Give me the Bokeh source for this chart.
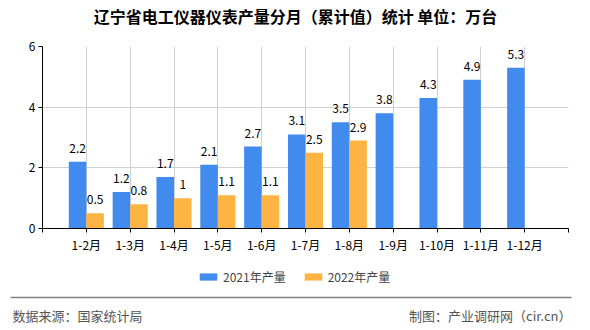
import numpy as np
from bokeh.plotting import figure
from bokeh.layouts import column, row
from bokeh.models import (ColumnDataSource, Range1d, FixedTicker, Legend, LegendItem)
from bokeh.core.properties import value
from bokeh.transform import dodge
from bokeh.embed import file_html
from bokeh.resources import INLINE

title_text = "辽宁省电工仪器仪表产量分月（累计值）统计 单位：万台"
months = ["1-2月", "1-3月", "1-4月", "1-5月", "1-6月", "1-7月", "1-8月",
          "1-9月", "1-10月", "1-11月", "1-12月"]
y2021 = [2.2, 1.2, 1.7, 2.1, 2.7, 3.1, 3.5, 3.8, 4.3, 4.9, 5.3]
y2022 = [0.5, 0.8, 1.0, 1.1, 1.1, 2.5, 2.9]
series_names = ["2021年产量", "2022年产量"]
y_ticks = [0, 2, 4, 6]
source_text = "数据来源：国家统计局"
credit_text = "制图：产业调研网（cir.cn）"

BLUE = "#418BEF"
ORANGE = "#FDB443"
FONT = "Noto Sans CJK SC"


def blank_panel(h):
    fig = figure(width=590, height=h, output_backend="svg", toolbar_location=None,
                 x_range=Range1d(0, 590), y_range=Range1d(h, 0),
                 min_border=0, x_axis_type=None, y_axis_type=None)
    fig.outline_line_color = None
    fig.xgrid.visible = False
    fig.ygrid.visible = False
    return fig


x21 = np.arange(1, len(y2021) + 1)
x22 = np.arange(1, len(y2022) + 1)
src21 = ColumnDataSource(dict(x=x21, y=y2021, lab=[f"{v:g}" for v in y2021]))
src22 = ColumnDataSource(dict(x=x22, y=y2022, lab=[f"{v:g}" for v in y2022]))

# header with title
h = blank_panel(30)
h.text(x=[295], y=[15.5], text=[title_text], text_align="center", text_baseline="middle",
       text_font=value(FONT), text_font_size="16px", text_font_style="bold",
       text_color="#000000")

# main chart
p = figure(width=590, height=225, output_backend="svg", toolbar_location=None,
           x_range=Range1d(0, len(months) + 1), y_range=Range1d(0, 6),
           min_border_left=42, min_border_right=22, min_border_top=16,
           min_border_bottom=26)
p.outline_line_color = None
p.background_fill_color = "white"
p.border_fill_color = "white"

r21 = p.vbar(x=dodge("x", -0.2, range=p.x_range), top="y", width=0.4,
             source=src21, fill_color=BLUE, line_color=None)
r22 = p.vbar(x=dodge("x", 0.2, range=p.x_range), top="y", width=0.4,
             source=src22, fill_color=ORANGE, line_color=None)

for s, off in ((src21, -0.2), (src22, 0.2)):
    p.text(x=dodge("x", off, range=p.x_range), y="y", text="lab", source=s,
           text_align="center", text_baseline="bottom", y_offset=-9,
           text_font=value(FONT), text_font_size="12px", text_color="#000000")

xa = p.xaxis[0]
xa.ticker = FixedTicker(ticks=list(range(0, len(months) + 2)))
overrides = {0: "", len(months) + 1: ""}
for i, m in zip(x21, months):
    overrides[int(i)] = m
xa.major_label_overrides = overrides
xa.axis_line_color = "#000000"
xa.major_tick_line_color = "#000000"
xa.major_tick_out = 4
xa.major_tick_in = 0
xa.minor_tick_line_color = None
xa.major_label_standoff = 3
xa.major_label_text_font = FONT
xa.major_label_text_font_size = "12px"
xa.major_label_text_color = "#000000"

ya = p.yaxis[0]
ya.ticker = FixedTicker(ticks=y_ticks)
ya.axis_line_color = "#000000"
ya.major_tick_line_color = "#000000"
ya.major_tick_out = 4
ya.major_tick_in = 0
ya.minor_tick_line_color = None
ya.major_label_standoff = 3
ya.major_label_text_font = FONT
ya.major_label_text_font_size = "12px"
ya.major_label_text_color = "#000000"

p.xgrid.grid_line_color = "#D0D0D0"
p.ygrid.grid_line_color = "#D0D0D0"
p.xgrid.ticker = xa.ticker
p.ygrid.ticker = ya.ticker

# footer: legend, rule, source notes
f = blank_panel(75)
# legend proxies: same series, mapped to off-screen ranges so only the key shows
f.extra_x_ranges = {"off": Range1d(10000, 20000)}
f.extra_y_ranges = {"offy": Range1d(10000, 20000)}
l21 = f.vbar(x="x", top="y", width=0.4, source=src21, fill_color=BLUE,
             line_color=None, x_range_name="off", y_range_name="offy")
l22 = f.vbar(x="x", top="y", width=0.4, source=src22, fill_color=ORANGE,
             line_color=None, x_range_name="off", y_range_name="offy")
legend = Legend(items=[LegendItem(label=series_names[0], renderers=[l21]),
                       LegendItem(label=series_names[1], renderers=[l22])],
                orientation="horizontal", location=(197, 45),
                glyph_width=22, glyph_height=9, label_standoff=4, spacing=16,
                padding=0, margin=0, border_line_color=None,
                background_fill_alpha=0, label_text_font=FONT,
                label_text_font_size="12px", label_height=10)
f.add_layout(legend, "center")
f.segment(x0=[10], y0=[42], x1=[571], y1=[42], line_color="#808080", line_width=1.5)
f.text(x=[12], y=[60], text=[source_text], text_align="left", text_baseline="middle",
       text_font=value(FONT), text_font_size="13px", text_color="#555555")
f.text(x=[571], y=[60], text=[credit_text], text_align="right", text_baseline="middle",
       text_font=value(FONT), text_font_size="13px", text_color="#555555")

layout = column(row(h), row(p), row(f), spacing=0)
open("out.html", "w").write(file_html(layout, INLINE))
